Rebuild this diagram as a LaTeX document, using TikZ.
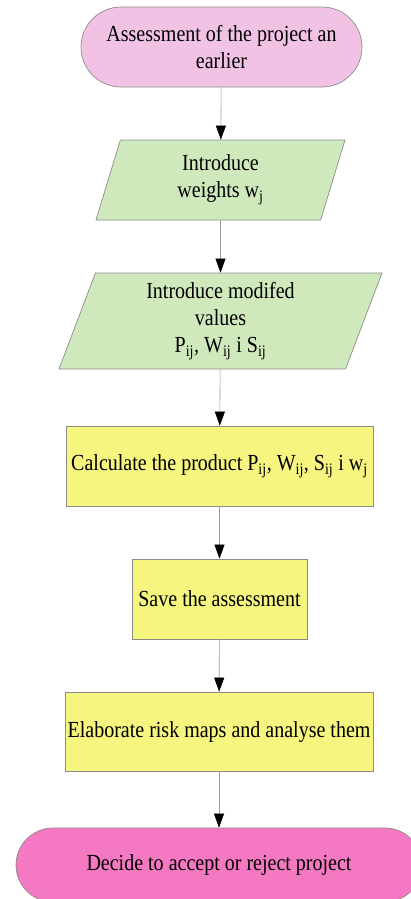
\documentclass[tikz,border=0pt]{standalone}
\usepackage{fontspec}
\setmainfont[FakeStretch=0.87]{Liberation Serif}
\usetikzlibrary{arrows.meta,shapes.geometric}
\definecolor{toppink}{RGB}{242,194,228}
\definecolor{iogreen}{RGB}{208,233,188}
\definecolor{procyellow}{RGB}{245,245,128}
\definecolor{endpink}{RGB}{245,120,195}
\definecolor{edgegray}{RGB}{140,140,140}
\tikzset{
  base/.style={draw=edgegray, line width=0.7pt, align=center, inner sep=2pt,
    font=\fontsize{23}{27}\selectfont, text=black},
  terminal/.style={base, rectangle, rounded corners=#1},
  iobox/.style={base, trapezium, trapezium stretches body, fill=iogreen},
  procbox/.style={base, rectangle, fill=procyellow},
  flow/.style={draw=gray!80, line width=0.6pt, -{Triangle[length=14pt,width=10pt,black]}}
}
\begin{document}
\begin{tikzpicture}[x=1pt,y=1pt]
\useasboundingbox (0,0) rectangle (411,-899);
\clip (0,0) rectangle (411,-899);
\node[terminal=40pt, fill=toppink, minimum width=281pt, minimum height=80pt]
  (start) at (221.5,-47) {Assessment of the project an\\earlier};
\node[iobox, trapezium left angle=65.77, trapezium right angle=114.23,
  minimum width=249pt, minimum height=80pt]
  (weights) at (220.5,-180) {Introduce\\weights w\textsubscript{j}};
\node[iobox, trapezium left angle=65.87, trapezium right angle=114.13,
  minimum width=323pt, minimum height=96pt]
  (values) at (220.5,-321) {Introduce modifed\\values\\P\textsubscript{ij}, W\textsubscript{ij} i S\textsubscript{ij}};
\node[procbox, minimum width=307pt, minimum height=80pt]
  (calc) at (219.5,-466) {Calculate the product P\textsubscript{ij}, W\textsubscript{ij}, S\textsubscript{ij} i w\textsubscript{j}};
\node[procbox, minimum width=175pt, minimum height=80pt]
  (save) at (219.5,-599) {Save the assessment};
\node[procbox, minimum width=308pt, minimum height=79pt]
  (maps) at (219,-731.5) {Elaborate risk maps and analyse them};
\node[terminal=37pt, fill=endpink, minimum width=406pt, minimum height=74pt]
  (decide) at (219,-865) {Decide to accept or reject project};
\draw[flow] (start) -- (weights);
\draw[flow] (weights) -- (values);
\draw[flow] (values) -- (calc);
\draw[flow] (calc) -- (save);
\draw[flow] (save) -- (maps);
\draw[flow] (maps) -- (decide);
\end{tikzpicture}
\end{document}
